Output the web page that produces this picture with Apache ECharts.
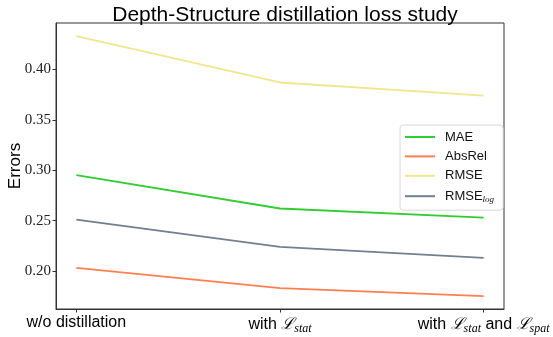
<!DOCTYPE html>
<html>
<head>
<meta charset="utf-8">
<script src="https://cdn.jsdelivr.net/npm/echarts@6/dist/echarts.min.js"></script>
<style>
  html, body { margin: 0; padding: 0; background: #fff; }
  #chart { width: 553px; height: 337px; }
</style>
</head>
<body>
<div id="chart"></div>
<script>
// Settings compared along the x axis
const settings = ['w/o distillation', 'with L_stat', 'with L_stat and L_spat'];
// Rich-text labels for each setting (script L with italic subscripts)
const settingLabels = [
  'w/o distillation',
  'with {L|ℒ}{sub|stat}',
  'with {L|ℒ}{sub|stat} and {L|ℒ}{sub|spat}'
];

// Error metrics per setting
const mae = [0.295, 0.262, 0.253];
const absRel = [0.203, 0.183, 0.175];
const rmse = [0.433, 0.387, 0.374];
const rmseLog = [0.251, 0.224, 0.213];

const yTicks = [0.20, 0.25, 0.30, 0.35, 0.40];
const xPositions = [0, 1, 2];

const toPoints = vals => vals.map((v, i) => [xPositions[i], v]);

const chart = echarts.init(document.getElementById('chart'), null, { renderer: 'canvas' });

const axisColor = '#333';
const sansFont = '"Liberation Sans", "DejaVu Sans", sans-serif';
const serifFont = '"Liberation Serif", "DejaVu Serif", serif';

chart.setOption({
  animation: false,
  backgroundColor: '#fff',
  title: {
    text: 'Depth-Structure distillation loss study',
    left: 280,
    textAlign: 'center',
    top: 0,
    textStyle: { fontFamily: sansFont, fontSize: 21, fontWeight: 'normal', color: '#000' }
  },
  grid: {
    left: 56, right: 49, top: 23, bottom: 28,
    outerBoundsMode: 'none',
    containLabel: false,
    show: true, borderColor: axisColor, borderWidth: 1, backgroundColor: 'transparent'
  },
  legend: {
    orient: 'vertical',
    left: 400,
    top: 125,
    padding: [5, 9, 6, 5],
    backgroundColor: '#fff',
    borderColor: '#d8d8d8',
    borderWidth: 1,
    borderRadius: 3,
    icon: 'rect',
    itemWidth: 30,
    itemHeight: 2,
    itemGap: 5.4,
    data: ['MAE', 'AbsRel', 'RMSE', 'RMSE_log'],
    formatter: name => name === 'RMSE_log' ? '{n|RMSE}{s|log}' : '{n|' + name + '}',
    textStyle: {
      fontFamily: sansFont, fontSize: 13, color: '#111', padding: [0, 0, 0, 5],
      lineHeight: 14,
      rich: {
        n: { fontFamily: sansFont, fontSize: 13, color: '#111', lineHeight: 14 },
        s: { fontFamily: serifFont, fontStyle: 'italic', fontSize: 9, color: '#111', padding: [7, 0, 0, 0], lineHeight: 9 }
      }
    }
  },
  xAxis: {
    type: 'value',
    min: -0.1,
    max: 2.1,
    splitLine: { show: false },
    axisLine: { show: true, onZero: false, lineStyle: { color: axisColor, width: 1 } },
    axisTick: { show: true, length: 3.5, customValues: xPositions, lineStyle: { color: axisColor } },
    axisLabel: {
      customValues: xPositions,
      margin: 6,
      formatter: v => settingLabels[Math.round(v)],
      fontFamily: sansFont,
      fontSize: 16,
      color: '#000',
      rich: {
        L: { fontFamily: '"DejaVu Serif", serif', fontStyle: 'italic', fontSize: 16, color: '#000' },
        sub: { fontFamily: serifFont, fontStyle: 'italic', fontSize: 12, color: '#000', padding: [8, 0, 0, 0] }
      }
    }
  },
  yAxis: {
    type: 'value',
    min: 0.1623,
    max: 0.446,
    name: 'Errors',
    nameLocation: 'middle',
    nameGap: 32,
    nameMoveOverlap: false,
    nameTextStyle: { fontFamily: sansFont, fontSize: 17, color: '#000' },
    splitLine: { show: false },
    axisLine: { show: true, onZero: false, lineStyle: { color: axisColor, width: 1 } },
    axisTick: { show: true, length: 3.5, customValues: yTicks, lineStyle: { color: axisColor } },
    axisLabel: {
      customValues: yTicks,
      margin: 5,
      formatter: v => v.toFixed(2),
      fontFamily: serifFont,
      fontSize: 15,
      color: '#222'
    }
  },
  series: [
    { name: 'MAE', type: 'line', data: toPoints(mae), color: '#32cd32' },
    { name: 'AbsRel', type: 'line', data: toPoints(absRel), color: '#ff7f50' },
    { name: 'RMSE', type: 'line', data: toPoints(rmse), color: '#f0e68c' },
    { name: 'RMSE_log', type: 'line', data: toPoints(rmseLog), color: '#708090' }
  ].map(s => Object.assign(s, {
    symbol: 'none',
    lineStyle: { width: 1.8, color: s.color },
    itemStyle: { color: s.color }
  }))
});
</script>
</body>
</html>
